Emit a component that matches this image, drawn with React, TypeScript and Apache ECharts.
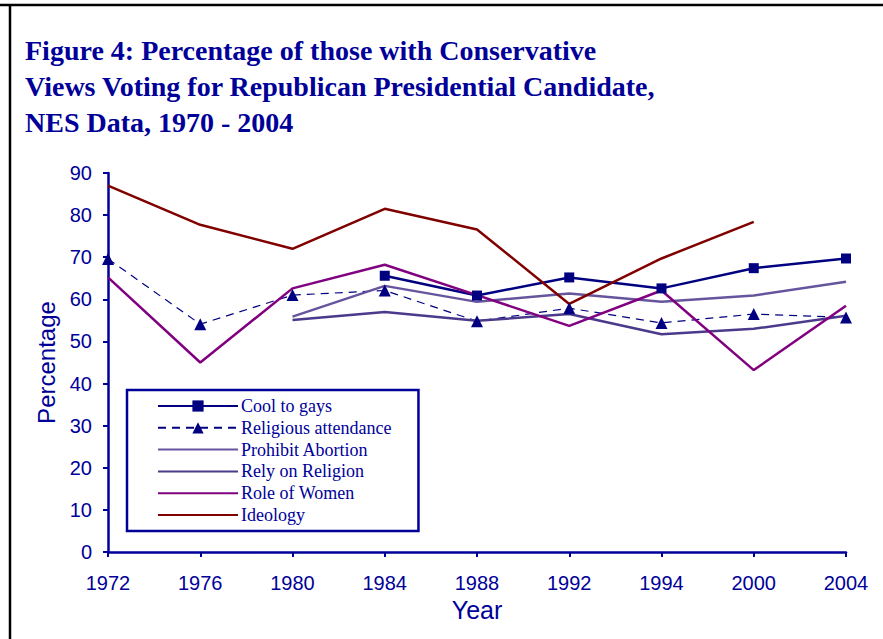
import React, { useEffect, useRef } from "react";
import * as echarts from "echarts";

const years = ["1972", "1976", "1980", "1984", "1988", "1992", "1994", "2000", "2004"];
const coolToGays = [null, null, null, 65.6, 60.9, 65.2, 62.6, 67.4, 69.7];
const religiousAttendance = [69.6, 54.1, 61.0, 62.1, 54.8, 57.9, 54.4, 56.5, 55.7];
const prohibitAbortion = [null, null, 55.9, 63.2, 59.4, 61.4, 59.4, 60.9, 64.2];
const relyOnReligion = [null, null, 55.1, 57.0, 54.9, 56.5, 51.7, 53.0, 56.1];
const roleOfWomen = [65.2, 45.0, 62.6, 68.2, 61.0, 53.7, 62.1, 43.2, 58.5];
const ideology = [87.0, 77.7, 72.0, 81.5, 76.6, 58.9, 69.7, 78.4, null];

const NAVY = "#000099";

export default function App() {
  const ref = useRef<HTMLDivElement>(null);
  useEffect(() => {
    const chart = echarts.init(ref.current!, null, { renderer: "svg" });
    const line = (name: string, data: any[], color: string, extra: any = {}) => ({
      name,
      type: "line",
      data,
      symbol: "none",
      lineStyle: { color, width: 2.5 },
      itemStyle: { color },
      ...extra,
    });
    const plain = (name: string) => ({ name, itemStyle: { opacity: 0 } });
    chart.setOption({
      animation: false,
      backgroundColor: "#ffffff",
      title: {
        text: "Figure 4: Percentage of those with Conservative\nViews Voting for Republican Presidential Candidate,\nNES Data, 1970 - 2004",
        left: 25,
        top: 32,
        padding: 0,
        textStyle: {
          fontFamily: "Liberation Serif",
          fontWeight: "bold",
          fontSize: 28,
          lineHeight: 36,
          color: NAVY,
        },
      },
      graphic: [
        { type: "line", shape: { x1: 0, y1: 5, x2: 883, y2: 5 }, style: { stroke: "#000", lineWidth: 2.5 } },
        { type: "line", shape: { x1: 10, y1: 4, x2: 10, y2: 639 }, style: { stroke: "#000", lineWidth: 2.5 } },
      ],
      legend: {
        orient: "vertical",
        left: 127,
        top: 390,
        padding: [7, 27, 7, 30],
        itemGap: 3.8,
        itemWidth: 80,
        itemHeight: 14,
        borderColor: NAVY,
        borderWidth: 2.5,
        backgroundColor: "#ffffff",
        textStyle: { fontFamily: "Liberation Serif", fontSize: 18, lineHeight: 18, color: NAVY, padding: [0, 0, 0, -2] },
        data: [
          "Cool to gays",
          "Religious attendance",
          plain("Prohibit Abortion"),
          plain("Rely on Religion"),
          plain("Role of Women"),
          plain("Ideology"),
        ],
      },
      grid: { left: 108, right: 37, top: 173, bottom: 87 },
      xAxis: {
        type: "category",
        data: years,
        boundaryGap: false,
        name: "Year",
        nameLocation: "middle",
        nameGap: 42,
        nameTextStyle: { fontFamily: "Liberation Sans", fontSize: 25, color: NAVY },
        axisLine: { lineStyle: { color: NAVY, width: 2.5 } },
        axisTick: { show: true, length: 5, lineStyle: { color: NAVY, width: 2 } },
        axisLabel: { fontFamily: "Liberation Sans", fontSize: 20, color: NAVY, margin: 21 },
        splitLine: { show: false },
      },
      yAxis: {
        type: "value",
        min: 0,
        max: 90,
        interval: 10,
        name: "Percentage",
        nameLocation: "middle",
        nameGap: 50,
        nameTextStyle: { fontFamily: "Liberation Sans", fontSize: 24, color: NAVY },
        axisLine: { show: true, lineStyle: { color: NAVY, width: 2.5 } },
        axisTick: { show: true, length: 5, lineStyle: { color: NAVY, width: 2 } },
        axisLabel: { fontFamily: "Liberation Sans", fontSize: 20, color: NAVY, margin: 16 },
        splitLine: { show: false },
      },
      series: [
        line("Cool to gays", coolToGays, "#000080", { symbol: "rect", symbolSize: 10, lineStyle: { color: "#000080", width: 2.5 } }),
        line("Religious attendance", religiousAttendance, "#000080", {
          symbol: "triangle",
          symbolSize: 12,
          lineStyle: { color: "#000080", width: 1.2, type: [8, 6] },
        }),
        line("Prohibit Abortion", prohibitAbortion, "#66559E"),
        line("Rely on Religion", relyOnReligion, "#4B3A8C"),
        line("Role of Women", roleOfWomen, "#800080"),
        line("Ideology", ideology, "#800000"),
      ],
    });
    return () => chart.dispose();
  }, []);
  return (
    <div
      ref={ref}
      style={{ position: "fixed", left: 0, top: 0, width: 883, height: 639, background: "#fff" }}
    />
  );
}
